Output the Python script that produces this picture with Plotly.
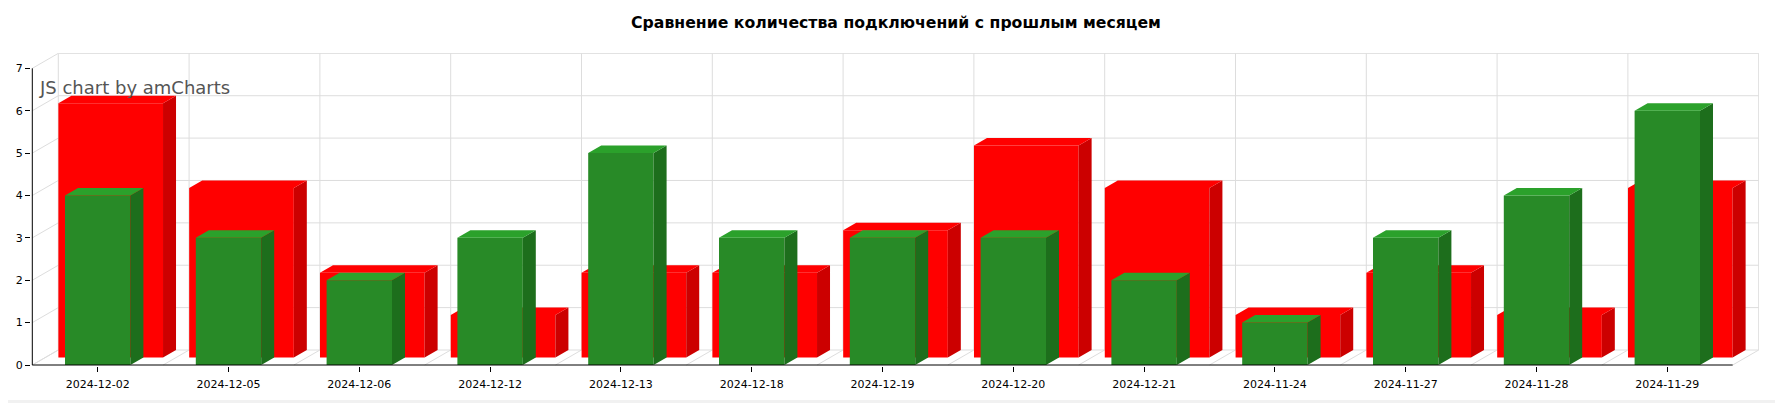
import plotly.graph_objects as go

# ---- data ----
categories = ["2024-12-02", "2024-12-05", "2024-12-06", "2024-12-12", "2024-12-13",
              "2024-12-18", "2024-12-19", "2024-12-20", "2024-12-21", "2024-11-24",
              "2024-11-27", "2024-11-28", "2024-11-29"]
prev_month = [6, 4, 2, 1, 2, 2, 3, 5, 4, 1, 2, 1, 4]      # red (back)
current = [4, 3, 2, 3, 5, 3, 3, 3, 2, 1, 3, 4, 6]          # green (front)
y_ticks = [0, 1, 2, 3, 4, 5, 6, 7]
title_text = "Сравнение количества подключений с прошлым месяцем"

# ---- geometry (page pixels; the page body adds an 8px offset) ----
OFF = 8
PAGE_W, PAGE_H = 1783, 403
W, H = PAGE_W - OFF, PAGE_H - OFF
AX_X = 32.3           # page px of y-axis line
AX_Y = 365.0          # page px of x-axis line
RIGHT = 1759.0        # page px of right edge of back wall
TOP = 53.0            # page px of top of back wall
ML = 23               # -> plot left at page 31
MT = int(TOP - OFF)
MR = PAGE_W - int(RIGHT)
MB = 37               # -> plot bottom at page 366
PX_X = 130.8          # px per category
PX_Y = 42.38          # px per unit
DX = 13.0 / PX_X      # depth step (data units)
DY = 7.5 / PX_Y
n = len(categories)
plot_l = OFF + ML
plot_b = OFF + H - MB
x0 = -0.5 - (AX_X - plot_l) / PX_X
x1 = -0.5 + (PAGE_W - MR - AX_X) / PX_X
y0 = -(plot_b - AX_Y) / PX_Y
y1 = (AX_Y - (OFF + MT)) / PX_Y

RED, RED_SIDE, RED_TOP = "#FF0000", "#CC0000", "#FF0000"
GRN, GRN_SIDE, GRN_TOP = "#288A27", "#1D6E1C", "#2BA12B"
GRID = "#DDDDDD"


def box_faces(xc, half, vals, off):
    """front, side and top faces of 3D columns; front face offset by `off` depth steps"""
    fx, fy, sx, sy, tx, ty = [], [], [], [], [], []
    for i, v in zip(xc, vals):
        l = i - half + off * DX
        r = i + half + off * DX
        b = off * DY
        t = v + off * DY
        fx += [l, r, r, l, l, None]
        fy += [b, b, t, t, b, None]
        sx += [r, r + DX, r + DX, r, r, None]
        sy += [b, b + DY, t + DY, t, b, None]
        tx += [l, r, r + DX, l + DX, l, None]
        ty += [t, t, t + DY, t + DY, t, None]
    return (fx, fy), (sx, sy), (tx, ty)


def add_faces(fig, faces, colors):
    for (fx, fy), c in zip(faces, colors):
        fig.add_trace(go.Scatter(x=fx, y=fy, fill="toself", fillcolor=c, mode="lines",
                                 line=dict(width=0, color=c), hoverinfo="skip"))


xs = list(range(n))
fig = go.Figure()
add_faces(fig, box_faces(xs, 0.4, prev_month, 1), [RED, RED_SIDE, RED_TOP])
add_faces(fig, box_faces(xs, 0.25, current, 0), [GRN, GRN_SIDE, GRN_TOP])

# ---- 3D grid (back wall, left wall, floor) ----
shapes = []
ymax = y_ticks[-1]
for k in y_ticks:
    shapes.append(dict(type="line", xref="x", yref="y", layer="below",
                       x0=-0.5 + 2 * DX, x1=n - 0.5 + 2 * DX, y0=k + 2 * DY, y1=k + 2 * DY,
                       line=dict(color=GRID, width=1)))
    shapes.append(dict(type="line", xref="x", yref="y", layer="below",
                       x0=-0.5, x1=-0.5 + 2 * DX, y0=k, y1=k + 2 * DY,
                       line=dict(color=GRID, width=1)))
for j in range(n + 1):
    xb = -0.5 + j
    shapes.append(dict(type="line", xref="x", yref="y", layer="below",
                       x0=xb + 2 * DX, x1=xb + 2 * DX, y0=2 * DY, y1=ymax + 2 * DY,
                       line=dict(color=GRID, width=1)))
    shapes.append(dict(type="line", xref="x", yref="y", layer="below",
                       x0=xb, x1=xb + 2 * DX, y0=0, y1=2 * DY,
                       line=dict(color=GRID, width=1)))
# front axis lines
shapes.append(dict(type="line", xref="x", yref="y", x0=-0.5, x1=n - 0.5, y0=0, y1=0,
                   line=dict(color="#000000", width=1)))
shapes.append(dict(type="line", xref="x", yref="y", x0=-0.5, x1=-0.5, y0=0, y1=ymax,
                   line=dict(color="#000000", width=1)))

# page px -> paper coords
pw = W - ML - MR
ph = H - MT - MB
def px(xp):
    return (xp - OFF - ML) / pw
def py(yp):
    return (OFF + H - MB - yp) / ph

# light page frame at right/bottom
shapes.append(dict(type="rect", xref="paper", yref="paper", x0=px(1779), x1=px(1783),
                   y0=py(403), y1=py(OFF), line=dict(width=0), fillcolor="#F1F1F1", layer="below"))
shapes.append(dict(type="rect", xref="paper", yref="paper", x0=px(OFF), x1=px(1783),
                   y0=py(403), y1=py(400), line=dict(width=0), fillcolor="#F1F1F1", layer="below"))

fig.update_layout(
    width=W, height=H,
    margin=dict(l=ML, r=MR, t=MT, b=MB, pad=0),
    paper_bgcolor="#FFFFFF", plot_bgcolor="rgba(0,0,0,0)",
    showlegend=False, hovermode=False,
    title=dict(text="<b>" + title_text + "</b>", xref="container", yref="container",
               x=(896 - OFF) / W, y=1 - (22.5 - OFF) / H, xanchor="center", yanchor="middle",
               font=dict(family="DejaVu Sans", size=15.7, color="#000000")),
    shapes=shapes,
    annotations=[dict(text="JS chart by amCharts", xref="paper", yref="paper",
                      x=px(37), y=py(87), xanchor="left", yanchor="middle", showarrow=False,
                      font=dict(family="DejaVu Sans", size=18, color="#555555"))],
    xaxis=dict(range=[x0, x1], tickmode="array", tickvals=xs, ticktext=categories,
               showgrid=False, zeroline=False, showline=False, automargin=False,
               ticks="outside", ticklen=5, tickcolor="#000000", ticklabelstandoff=3,
               tickfont=dict(family="DejaVu Sans", size=11, color="#000000"), fixedrange=True),
    yaxis=dict(range=[y0, y1], tickmode="array", tickvals=y_ticks,
               ticktext=[str(v) for v in y_ticks],
               showgrid=False, zeroline=False, showline=False, automargin=False,
               ticks="outside", ticklen=5, tickcolor="#000000",
               tickfont=dict(family="DejaVu Sans", size=11, color="#000000"), fixedrange=True),
)

fig.write_html("out.html")
